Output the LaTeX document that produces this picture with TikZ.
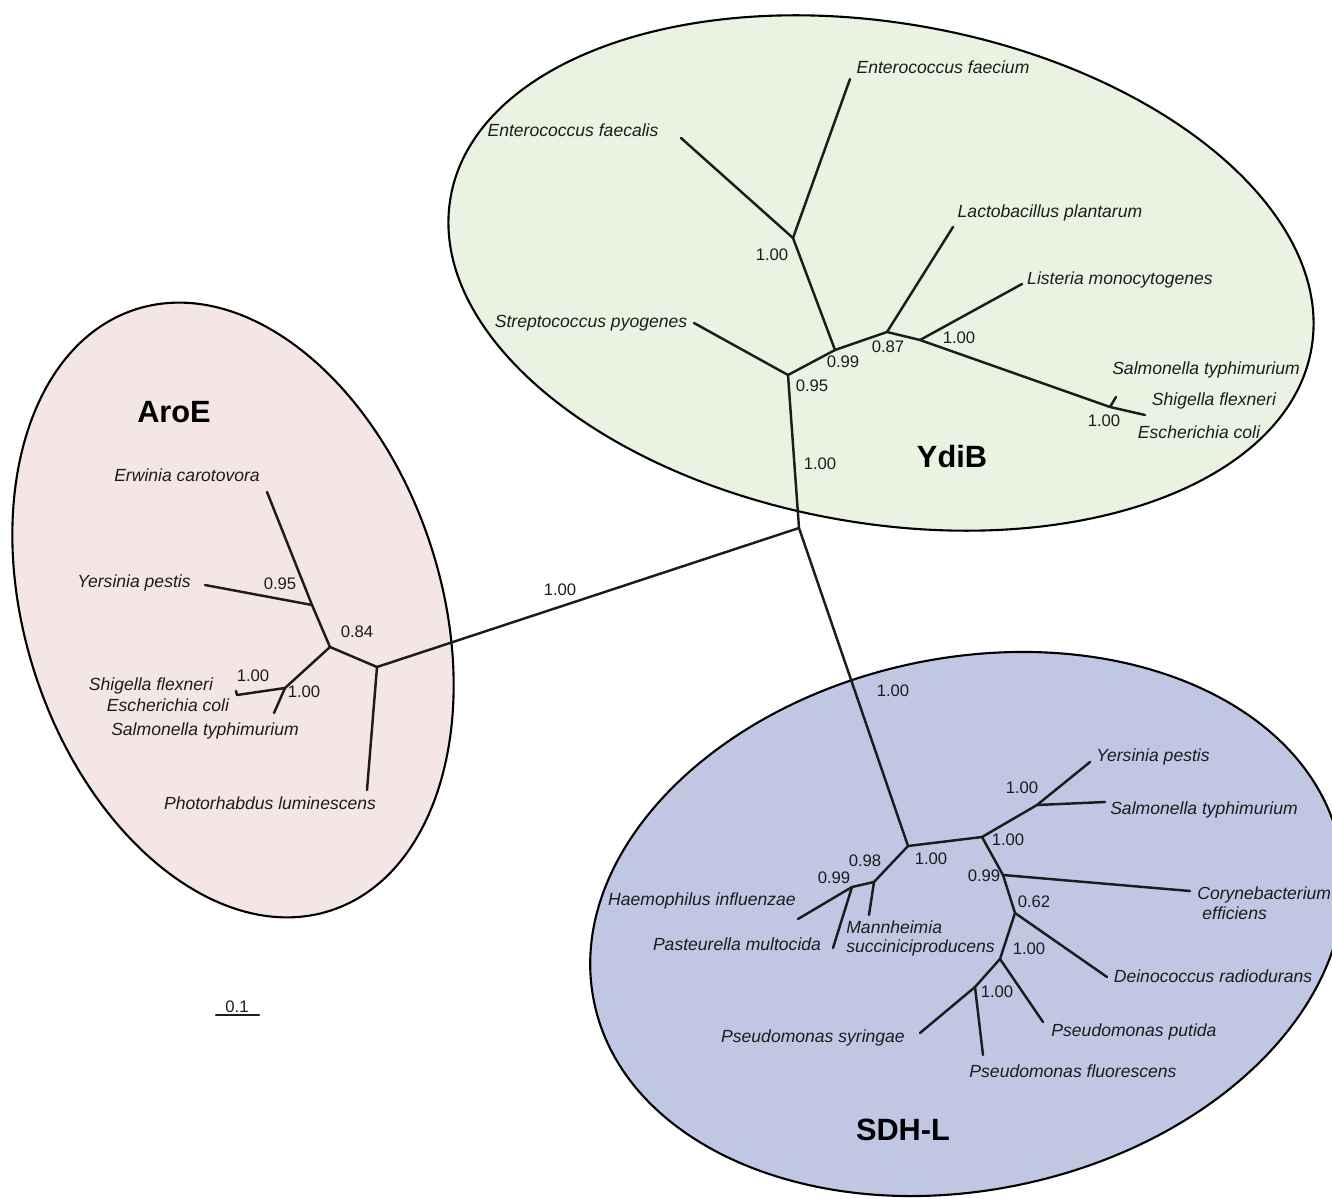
\documentclass[tikz,border=0pt]{standalone}
\usepackage{fontspec}
\setmainfont{Liberation Sans}
\usetikzlibrary{positioning}

\definecolor{ydibgreen}{HTML}{EAF2E2}
\definecolor{aroepink}{HTML}{F3E6E4}
\definecolor{sdhblue}{HTML}{BFC7E3}
\definecolor{ink}{HTML}{1C1C1C}

\begin{document}
\begin{tikzpicture}[
    x=0.02cm, y=-0.02cm,
    clade/.style={draw=black, line width=1.2pt, fill=#1},
    branch/.style={draw=ink, line width=1.4pt, line cap=round, line join=round},
    taxon/.style={font=\fontsize{10}{12}\selectfont\itshape, text=ink, inner sep=0pt, anchor=mid},
    support/.style={font=\fontsize{9.5}{11}\selectfont, text=ink, inner sep=0pt, anchor=mid},
    group/.style={font=\fontsize{17.5}{20}\selectfont\bfseries, text=black, inner sep=0pt, anchor=mid}]

\useasboundingbox (0,0) rectangle (1332,1199);
\clip (0,0) rectangle (1332,1199);

% the three clades
\path[clade=ydibgreen, rotate around={-10:(881,273)}] (881,273) ellipse [x radius=437, y radius=250];
\path[clade=aroepink, rotate around={18:(233,610)}] (233,610) ellipse [x radius=208, y radius=316];
\path[clade=sdhblue, rotate around={12:(967,924)}] (967,924) ellipse [x radius=381, y radius=266];

% inner nodes
\coordinate (r0) at (799,528);
\coordinate (y1) at (788,375);
\coordinate (y2) at (835,350);
\coordinate (y3) at (793,238);
\coordinate (y4) at (887,332);
\coordinate (y5) at (920,340);
\coordinate (y6) at (1110,407);
\coordinate (a1) at (377,667);
\coordinate (a2) at (330,647);
\coordinate (a3) at (312,605);
\coordinate (a4) at (285,688);
\coordinate (s1) at (908,846);
\coordinate (s2) at (982,837);
\coordinate (s3) at (874,882);
\coordinate (s4) at (852,887);
\coordinate (s5) at (1037,805);
\coordinate (s6) at (1003,875);
\coordinate (s7) at (1015,913);
\coordinate (s8) at (1000,959);
\coordinate (s9) at (975,987);

% leaf ends
\coordinate (strep) at (694,323);
\coordinate (efcalis) at (681,138);
\coordinate (efcium) at (850,79);
\coordinate (lacto) at (953,227);
\coordinate (lister) at (1022,284);
\coordinate (ysalm) at (1116,397);
\coordinate (yecoli) at (1145,415);
\coordinate (erw) at (267,492);
\coordinate (yers) at (205,585);
\coordinate (shig) at (237,695);
\coordinate (shigtip) at (236,691);
\coordinate (asalm) at (274,713);
\coordinate (photo) at (367,790);
\coordinate (mann) at (869,915);
\coordinate (haem) at (798,919);
\coordinate (past) at (833,948);
\coordinate (syers) at (1090,762);
\coordinate (ssalm) at (1105,802);
\coordinate (cory) at (1190,891);
\coordinate (deino) at (1107,977);
\coordinate (putida) at (1043,1022);
\coordinate (fluor) at (983,1055);
\coordinate (syring) at (920,1033);
\coordinate (bar1) at (216,1015);
\coordinate (bar2) at (259,1015);

% branches
\draw[branch] (a1) -- (r0) -- (s1);
\draw[branch] (r0) -- (y1) -- (strep);
\draw[branch] (y1) -- (y2) -- (y4) -- (y5) -- (y6) -- (yecoli);
\draw[branch] (y2) -- (y3) -- (efcalis);
\draw[branch] (y3) -- (efcium);
\draw[branch] (y4) -- (lacto);
\draw[branch] (y5) -- (lister);
\draw[branch] (y6) -- (ysalm);
\draw[branch] (a1) -- (photo);
\draw[branch] (a1) -- (a2) -- (a3) -- (erw);
\draw[branch] (a3) -- (yers);
\draw[branch] (a2) -- (a4) -- (shig) -- (shigtip);
\draw[branch] (a4) -- (asalm);
\draw[branch] (s1) -- (s2) -- (s5) -- (syers);
\draw[branch] (s5) -- (ssalm);
\draw[branch] (s2) -- (s6) -- (s7) -- (s8) -- (s9) -- (syring);
\draw[branch] (s6) -- (cory);
\draw[branch] (s7) -- (deino);
\draw[branch] (s8) -- (putida);
\draw[branch] (s9) -- (fluor);
\draw[branch] (s1) -- (s3) -- (s4) -- (haem);
\draw[branch] (s3) -- (mann);
\draw[branch] (s4) -- (past);
\draw[branch] (bar1) -- (bar2);

% YdiB
\node[group] (ydib) at (952,463) {YdiB};
\node[taxon] (tefcium) at (943,69) {Enterococcus faecium};
\node[taxon] (tefcalis) at (573,132) {Enterococcus faecalis};
\node[taxon] (tstrep) at (591,323) {Streptococcus pyogenes};
\node[taxon] (tlacto) at (1050,213) {Lactobacillus plantarum};
\node[taxon] (tlister) at (1120,280) {Listeria monocytogenes};
\node[taxon] (tysalm) at (1206,370) {Salmonella typhimurium};
\node[taxon] (tyshig) at (1214,401) {Shigella flexneri};
\node[taxon] (tyecoli) at (1199,434) {Escherichia coli};
\node[support] (by3) at (772,256) {1.00};
\node[support] (by2) at (843,363) {0.99};
\node[support] (by1) at (812,387) {0.95};
\node[support] (by4) at (888,348) {0.87};
\node[support] (by5) at (959,339) {1.00};
\node[support] (by6) at (1104,422) {1.00};
\node[support] (byr) at (820,465) {1.00};

% AroE
\node[group] (aroe) at (174,418) {AroE};
\node[taxon] (terw) at (187,477) {Erwinia carotovora};
\node[taxon] (tyers) at (134,583) {Yersinia pestis};
\node[taxon] (tashig) at (151,686) {Shigella flexneri};
\node[taxon] (taecoli) at (168,707) {Escherichia coli};
\node[taxon] (tasalm) at (205,731) {Salmonella typhimurium};
\node[taxon] (tphoto) at (270,805) {Photorhabdus luminescens};
\node[support] (ba3) at (280,585) {0.95};
\node[support] (ba2) at (357,633) {0.84};
\node[support] (bshig) at (253,677) {1.00};
\node[support] (ba4) at (304,693) {1.00};
\node[support] (bar) at (560,591) {1.00};

% SDH-L
\node[group] (sdhl) at (903,1136) {SDH-L};
\node[taxon] (thaem) at (702,901) {Haemophilus influenzae};
\node[taxon] (tpast) at (737,946) {Pasteurella multocida};
\node[taxon, anchor=mid west] (tmann) at (846,929) {Mannheimia};
\node[taxon, anchor=mid west] (tsucc) at (846,948) {succiniciproducens};
\node[taxon] (tsyers) at (1153,757) {Yersinia pestis};
\node[taxon] (tssalm) at (1204,810) {Salmonella typhimurium};
\node[taxon, anchor=mid west] (tcory) at (1197,895) {Corynebacterium};
\node[taxon, anchor=mid west] (teffi) at (1202,915) {efficiens};
\node[taxon] (tdeino) at (1213,978) {Deinococcus radiodurans};
\node[taxon] (tputida) at (1134,1032) {Pseudomonas putida};
\node[taxon] (tfluor) at (1073,1073) {Pseudomonas fluorescens};
\node[taxon] (tsyring) at (813,1038) {Pseudomonas syringae};
\node[support] (bs4) at (834,879) {0.99};
\node[support] (bs3) at (865,862) {0.98};
\node[support] (bs1) at (931,860) {1.00};
\node[support] (bs5) at (1022,789) {1.00};
\node[support] (bs2) at (1008,841) {1.00};
\node[support] (bs6) at (984,877) {0.99};
\node[support] (bs7) at (1034,903) {0.62};
\node[support] (bs8) at (1029,950) {1.00};
\node[support] (bs9) at (997,993) {1.00};
\node[support] (bsr) at (893,692) {1.00};

% scale bar
\node[support] (scale) at (237,1008) {0.1};
\end{tikzpicture}
\end{document}
